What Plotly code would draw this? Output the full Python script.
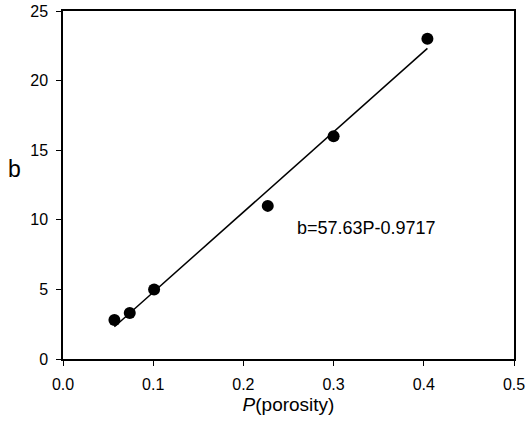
import plotly.graph_objects as go

porosity = [0.057, 0.074, 0.101, 0.227, 0.300, 0.404]
b_values = [2.8, 3.3, 5.0, 11.0, 16.0, 23.0]
slope = 57.63
intercept = -0.9717
x_ticks = [0.0, 0.1, 0.2, 0.3, 0.4, 0.5]
y_ticks = [0, 5, 10, 15, 20, 25]

FONT = "Liberation Sans, Arial"
fit_x = [min(porosity), max(porosity)]
fit_y = [slope * v + intercept for v in fit_x]

fig = go.Figure()
fig.add_trace(go.Scatter(x=fit_x, y=fit_y, mode="lines",
                         line=dict(color="black", width=1.5), showlegend=False))
fig.add_trace(go.Scatter(x=porosity, y=b_values, mode="markers",
                         marker=dict(color="black", size=12), showlegend=False))

fig.add_annotation(x=0.257, y=9.41, xref="x", yref="y", text="b=57.63P-0.9717",
                   showarrow=False, xanchor="left", yanchor="middle",
                   font=dict(size=18, color="black", family=FONT))
fig.add_annotation(x=(14 - 63) / (527 - 63 - 13), y=(359 - 169) / (359 - 11),
                   xref="paper", yref="paper", text="b", showarrow=False,
                   xanchor="center", yanchor="middle",
                   font=dict(size=23, color="black", family=FONT))

axis_common = dict(showline=True, linecolor="black", linewidth=1.5, mirror=True,
                   ticks="outside", ticklen=5, tickcolor="black", showgrid=False,
                   zeroline=False, automargin=False,
                   tickfont=dict(size=16, color="black", family=FONT))

fig.update_xaxes(range=[0, 0.5], tickvals=x_ticks, tickformat=".1f",
                 ticklabelstandoff=5,
                 title=dict(text="<i>P</i>(porosity)", font=dict(size=19, color="black",
                            family=FONT), standoff=6),
                 **axis_common)
fig.update_yaxes(range=[0, 25], tickvals=y_ticks, ticklabelstandoff=5,
                 **axis_common)

fig.update_layout(width=527, height=429, margin=dict(l=63, r=13, t=11, b=70),
                  plot_bgcolor="white", paper_bgcolor="white")

fig.write_html("out.html")
